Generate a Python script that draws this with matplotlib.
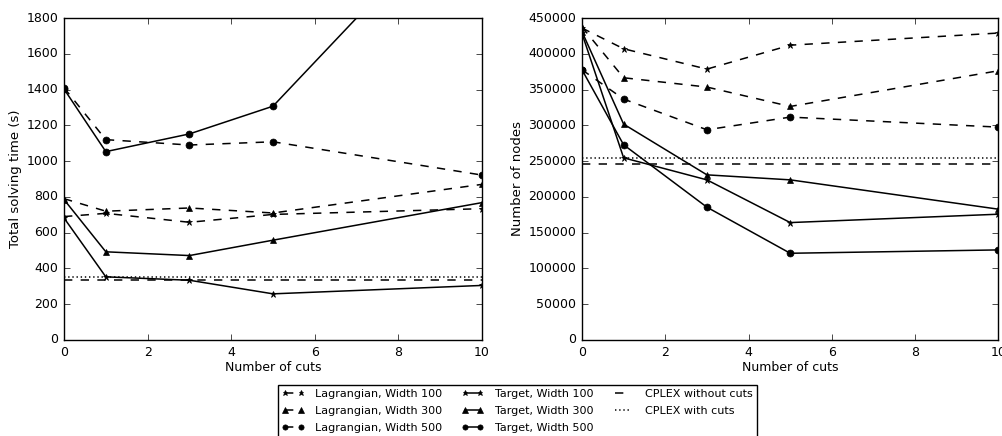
import matplotlib
matplotlib.use("Agg")
import matplotlib.pyplot as plt

plt.style.use("classic")
plt.rcParams["font.family"] = ["DejaVu Sans"]
plt.rcParams["font.size"] = 9
plt.rcParams["figure.facecolor"] = "white"
plt.rcParams["savefig.facecolor"] = "white"

cuts = [0, 1, 3, 5, 10]

# total solving time (s)
time_lag100 = [690, 708, 658, 702, 734]
time_lag300 = [790, 720, 738, 710, 870]
time_lag500 = [1410, 1120, 1090, 1108, 922]
time_tgt100 = [682, 353, 334, 258, 305]
time_tgt300 = [785, 493, 472, 558, 768]
time_tgt500 = [1403, 1053, 1152, 1307, 2540]
time_cplex_nocuts = 335
time_cplex_cuts = 353

# number of nodes
nodes_lag100 = [436000, 407000, 378600, 412000, 429000]
nodes_lag300 = [437500, 366500, 353500, 326400, 376300]
nodes_lag500 = [377700, 336700, 293800, 311500, 297500]
nodes_tgt100 = [428500, 254600, 223800, 164100, 175800]
nodes_tgt300 = [431000, 301700, 230800, 223800, 182800]
nodes_tgt500 = [377700, 272800, 185600, 121200, 125900]
nodes_cplex_nocuts = 245800
nodes_cplex_cuts = 255000

labels = ["Lagrangian, Width 100", "Lagrangian, Width 300", "Lagrangian, Width 500",
          "Target, Width 100", "Target, Width 300", "Target, Width 500",
          "CPLEX without cuts", "CPLEX with cuts"]
markers = ["*", "^", "o"]

fig = plt.figure(figsize=(10.02, 4.36), dpi=100)
ax1 = fig.add_axes([0.0639, 0.2202, 0.4171, 0.7385])
ax2 = fig.add_axes([0.5808, 0.2202, 0.4157, 0.7385])


def draw(ax, lag, tgt, nocuts, withcuts):
    handles = []
    for ys, m in zip(lag, markers):
        h, = ax.plot(cuts, ys, "k--", marker=m, markersize=5, lw=1.1)
        handles.append(h)
    for ys, m in zip(tgt, markers):
        h, = ax.plot(cuts, ys, "k-", marker=m, markersize=5, lw=1.1)
        handles.append(h)
    h1 = ax.axhline(nocuts, color="k", ls="--", lw=1.1)
    h2 = ax.axhline(withcuts, color="k", ls=(0, (1, 2)), lw=1.1)
    handles += [h1, h2]
    ax.set_xlim(0, 10)
    ax.set_xlabel("Number of cuts", labelpad=2)
    return handles


handles = draw(ax1, [time_lag100, time_lag300, time_lag500],
               [time_tgt100, time_tgt300, time_tgt500],
               time_cplex_nocuts, time_cplex_cuts)
ax1.set_ylim(0, 1800)
ax1.set_yticks(range(0, 1801, 200))
ax1.set_ylabel("Total solving time (s)", fontsize=9.5, labelpad=3)

draw(ax2, [nodes_lag100, nodes_lag300, nodes_lag500],
     [nodes_tgt100, nodes_tgt300, nodes_tgt500],
     nodes_cplex_nocuts, nodes_cplex_cuts)
ax2.set_ylim(0, 450000)
ax2.set_yticks(range(0, 450001, 50000))
ax2.ticklabel_format(axis="y", style="plain", useOffset=False)
ax2.set_ylabel("Number of nodes", fontsize=9.5, labelpad=3)

fig.legend(handles, labels, ncol=3, loc="upper left",
           bbox_to_anchor=(0.2774, 0.117), borderaxespad=0, fontsize=8,
           numpoints=2, handlelength=2.0, handletextpad=1.0, columnspacing=1.7,
           labelspacing=0.65, borderpad=0.35, markerscale=0.75, frameon=True)

fig.savefig("out.png", dpi=100)
